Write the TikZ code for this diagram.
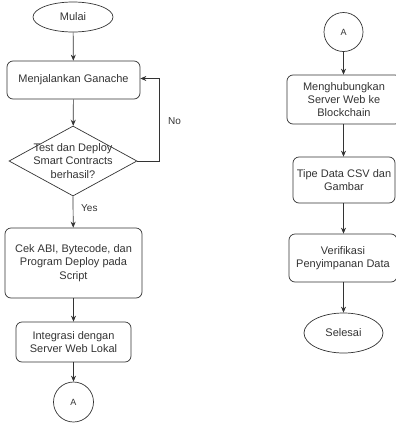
\documentclass[tikz,border=0pt]{standalone}
\usepackage{fontspec}
\setmainfont{Liberation Sans}
\usetikzlibrary{shapes.geometric,arrows.meta}
\definecolor{ln}{HTML}{333333}
\definecolor{tx}{HTML}{333333}
\tikzset{
  box/.style={draw=ln, line width=0.7pt, rounded corners=6pt, inner sep=0pt, align=center, text=tx, font=\fontsize{11}{13.3}\selectfont},
  term/.style={draw=ln, line width=0.7pt, ellipse, inner sep=0pt, text=tx, font=\fontsize{11}{13.3}\selectfont},
  conn/.style={draw=ln, line width=0.7pt, circle, inner sep=0pt, text=tx, font=\fontsize{9}{11}\selectfont},
  dec/.style={draw=ln, line width=0.7pt, diamond, inner sep=0pt},
  lbl/.style={text=tx, font=\fontsize{10}{12}\selectfont, inner sep=0pt, align=center},
  arr/.style={draw=ln, line width=0.7pt, -{Stealth[length=6pt,width=5pt]}}
}
\begin{document}
\begin{tikzpicture}[x=1pt,y=-1pt]
\useasboundingbox (0,0) rectangle (396,426);
% left column
\node[term, minimum width=80pt, minimum height=30pt] (mulai) at (73,17) {Mulai};
\node[box, minimum width=133pt, minimum height=38pt] (ganache) at (73.5,80) {Menjalankan Ganache};
\node[dec, minimum width=128pt, minimum height=70pt] (dia) at (73,161) {};
\node[lbl, font=\fontsize{11}{13.3}\selectfont] (diatext) at (dia.center) {Test dan Deploy\\Smart Contracts\\berhasil?};
\node[box, minimum width=137pt, minimum height=70pt] (cek) at (73.5,263) {Cek ABI, Bytecode, dan\\Program Deploy pada\\Script};
\node[box, minimum width=115pt, minimum height=40pt] (integ) at (73.5,342) {Integrasi dengan\\Server Web Lokal};
\node[conn, minimum size=40pt] (a1) at (73.5,402) {A};
\coordinate (nocorner1) at (159.5,161);
\coordinate (nocorner2) at (159.5,78.5);
\node[lbl, anchor=west] (no) at (168,121) {No};
\node[lbl, anchor=west] (yes) at (81,208) {Yes};
\draw[arr] (mulai) -- (ganache);
\draw[arr] (ganache) -- (dia);
\draw[arr] (dia.east) -- (nocorner1) -- (nocorner2) -- (ganache.east |- nocorner2);
\draw[arr] (dia.south) -- (cek);
\draw[arr] (cek) -- (integ);
\draw[arr] (integ) -- (a1);
% right column
\node[conn, minimum size=39pt] (a2) at (343.5,32) {A};
\node[box, minimum width=114pt, minimum height=49pt] (hub) at (344,99.5) {Menghubungkan\\Server Web ke\\Blockchain};
\node[box, minimum width=102pt, minimum height=46pt] (tipe) at (344,180) {Tipe Data CSV dan\\Gambar};
\node[box, minimum width=108pt, minimum height=48pt] (verif) at (343,258) {Verifikasi\\Penyimpanan Data};
\node[term, minimum width=79pt, minimum height=40pt] (selesai) at (343.5,333) {Selesai};
\draw[arr] (a2) -- (a2 |- hub.north);
\draw[arr] (hub.south -| a2) -- (a2 |- tipe.north);
\draw[arr] (tipe.south -| a2) -- (a2 |- verif.north);
\draw[arr] (verif.south -| a2) -- (selesai);
\end{tikzpicture}
\end{document}
